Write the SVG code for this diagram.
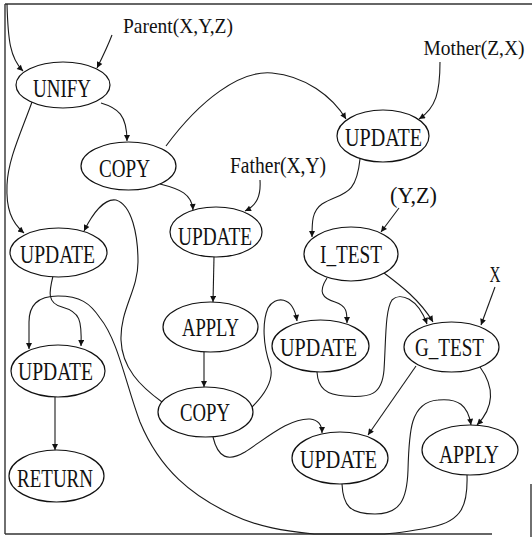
<svg xmlns="http://www.w3.org/2000/svg" width="532" height="537" viewBox="0 0 532 537">
<style>
  .n ellipse { fill: #fff; stroke: #111; stroke-width: 1.2; }
  .n text { font-family: "Liberation Serif", "Times New Roman", serif; font-size: 26px; fill: #111; text-anchor: middle; }
  .lbl text { font-family: "Liberation Serif", "Times New Roman", serif; font-size: 24px; fill: #111; text-anchor: middle; }
  .lbl text.sm { font-size: 21px; }
  .lbl text.xs { font-size: 20px; }
  .e path { fill: none; stroke: #1a1a1a; stroke-width: 1.1; marker-end: url(#ah); }
  .border { fill: none; stroke: #333; stroke-width: 1.4; }
</style>
<defs>
  <marker id="ah" viewBox="0 0 10 10" refX="10" refY="5" markerWidth="8" markerHeight="6" markerUnits="userSpaceOnUse" orient="auto">
    <path d="M0,0 L10,5 L0,10 z" fill="#111"/>
  </marker>
</defs>
<rect width="532" height="537" fill="#fff"/>

<g id="frame">
  <line class="border" x1="5" y1="4" x2="532" y2="4" stroke="#666"/>
  <line class="border" x1="5" y1="4" x2="5" y2="534"/>
  <line class="border" x1="5" y1="534" x2="492" y2="534"/>
  <line class="border" x1="531" y1="484" x2="531" y2="537" stroke="#666"/>
</g>

<g id="connectors" class="e">
  <path d="M7,4 C8,40 10,58 23,71"/>
  <path d="M112,35 C107,48 102,58 97,68"/>
  <path d="M101,103 C118,108 127,115 127,141"/>
  <path d="M32,102 C20,135 8,160 7,185 C6,208 11,222 24,233"/>
  <path d="M160,184 C180,189 192,194 193,210"/>
  <path d="M260,180 C261,196 257,205 245,211"/>
  <path d="M166,146 C200,100 240,70 272,73 C305,76 332,96 346,119"/>
  <path d="M440,62 C440,92 436,108 419,119"/>
  <path d="M360,159 C356,198 342,192 322,204 C312,211 312,222 312,237"/>
  <path d="M399,208 L381,232"/>
  <path d="M214,257 L213,302"/>
  <path d="M204,352 L204,387"/>
  <path d="M53,276 C49,292 47,303 62,307 C80,312 82,320 81,346"/>
  <path d="M467,475 C468,505 462,521 432,527 C412,531 395,534 380,534 L314,534 C285,531 258,527 233,515 C192,496 160,470 140,422 C126,385 118,340 100,318 C90,303 80,296 58,296 C37,296 29,306 29,322 L29,349"/>
  <path d="M162,402 C140,386 122,368 121,340 C120,310 138,290 138,262 C138,235 132,205 116,200 C104,198 92,215 84,231"/>
  <path d="M252,407 C264,395 275,380 270,365 C263,345 262,322 268,308 C275,296 293,295 297,321"/>
  <path d="M327,278 C318,292 322,298 335,302 C347,306 347,312 347,323"/>
  <path d="M384,273 C400,285 420,300 433,322"/>
  <path d="M317,372 C318,388 326,395 345,396 C370,398 382,395 384,370 C386,340 385,310 392,300 C400,292 418,298 427,324"/>
  <path d="M495,287 L481,325"/>
  <path d="M416,366 L368,435"/>
  <path d="M480,367 C493,385 496,405 477,425"/>
  <path d="M342,484 C343,506 350,514 375,514 C400,514 407,500 408,470 C409,432 410,402 438,400 C458,398 468,405 471,425"/>
  <path d="M213,437 C218,458 228,462 245,452 C268,437 290,418 310,419 C319,420 322,426 322,433"/>
  <path d="M55,397 L55,450"/>
</g>

<g id="label-parent" class="lbl"><text class="sm" x="178" y="33" textLength="110" lengthAdjust="spacingAndGlyphs">Parent(X,Y,Z)</text></g>
<g id="label-mother" class="lbl"><text class="xs" x="474" y="55" textLength="101" lengthAdjust="spacingAndGlyphs">Mother(Z,X)</text></g>
<g id="label-father" class="lbl"><text x="278" y="173" textLength="96" lengthAdjust="spacingAndGlyphs">Father(X,Y)</text></g>
<g id="label-yz" class="lbl"><text x="413.5" y="203" textLength="47" lengthAdjust="spacingAndGlyphs">(Y,Z)</text></g>
<g id="label-x" class="lbl"><text x="495" y="282" textLength="11" lengthAdjust="spacingAndGlyphs">X</text></g>

<g id="n-unify" class="n"><ellipse cx="63" cy="85" rx="47" ry="23"/><text x="62" y="97" textLength="58" lengthAdjust="spacingAndGlyphs">UNIFY</text></g>
<g id="n-copy1" class="n"><ellipse cx="128.5" cy="166" rx="47.5" ry="24"/><text x="124.5" y="177" textLength="51" lengthAdjust="spacingAndGlyphs">COPY</text></g>
<g id="n-update-mother" class="n"><ellipse cx="383" cy="136" rx="46" ry="26"/><text x="383.5" y="146" textLength="77" lengthAdjust="spacingAndGlyphs">UPDATE</text></g>
<g id="n-update-father" class="n"><ellipse cx="216" cy="232" rx="46" ry="25"/><text x="215" y="245" textLength="74" lengthAdjust="spacingAndGlyphs">UPDATE</text></g>
<g id="n-update-left" class="n"><ellipse cx="58.5" cy="252.5" rx="48.5" ry="24.5"/><text x="57.5" y="263" textLength="75" lengthAdjust="spacingAndGlyphs">UPDATE</text></g>
<g id="n-itest" class="n"><ellipse cx="351" cy="254" rx="47" ry="27"/><text x="351" y="263" textLength="62" lengthAdjust="spacingAndGlyphs">I_TEST</text></g>
<g id="n-apply1" class="n"><ellipse cx="210.5" cy="327" rx="47.5" ry="25"/><text x="210.5" y="336" textLength="57" lengthAdjust="spacingAndGlyphs">APPLY</text></g>
<g id="n-update-mid" class="n"><ellipse cx="320.5" cy="346" rx="48.5" ry="26"/><text x="318.5" y="356" textLength="77" lengthAdjust="spacingAndGlyphs">UPDATE</text></g>
<g id="n-gtest" class="n"><ellipse cx="451.5" cy="347" rx="47.5" ry="25"/><text x="449.5" y="356" textLength="69" lengthAdjust="spacingAndGlyphs">G_TEST</text></g>
<g id="n-copy2" class="n"><ellipse cx="205.5" cy="412" rx="47.5" ry="25"/><text x="205" y="421" textLength="50" lengthAdjust="spacingAndGlyphs">COPY</text></g>
<g id="n-update-lower-left" class="n"><ellipse cx="58" cy="371" rx="47" ry="26"/><text x="55.5" y="380" textLength="75" lengthAdjust="spacingAndGlyphs">UPDATE</text></g>
<g id="n-return" class="n"><ellipse cx="56.5" cy="476" rx="47.5" ry="26"/><text x="55" y="487" textLength="76" lengthAdjust="spacingAndGlyphs">RETURN</text></g>
<g id="n-update-bottom" class="n"><ellipse cx="340" cy="458" rx="48" ry="26"/><text x="338.5" y="468" textLength="77" lengthAdjust="spacingAndGlyphs">UPDATE</text></g>
<g id="n-apply2" class="n"><ellipse cx="470" cy="450" rx="48" ry="25"/><text x="469" y="463" textLength="60" lengthAdjust="spacingAndGlyphs">APPLY</text></g>
</svg>
